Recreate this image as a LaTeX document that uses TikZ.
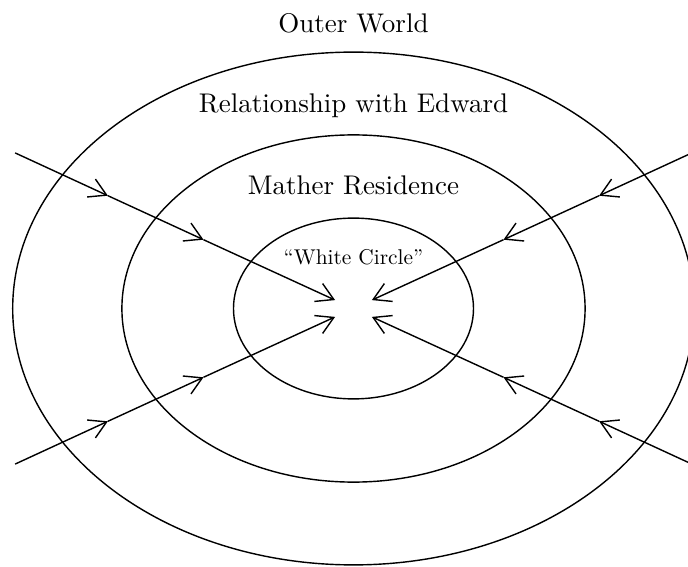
\documentclass[tikz,border=0pt]{standalone}
\usetikzlibrary{arrows.meta}

\tikzset{
  flecha/.style={line width=1pt,
    -{Straight Barb[length=12pt,width=14pt]}},
  etiqueta/.style={anchor=base, scale=1.92},
  etiquetachica/.style={anchor=base, scale=1.52},
}

\begin{document}
\begin{tikzpicture}[line width=1pt]
  % Marco
  \clip (-8.8375,-6.4625) rectangle (8.3625,7.7125);

  % Elipses
  \draw (0,0) ellipse (8.52 and 6.41);
  \draw (0,0) ellipse (5.79 and 4.34);
  \draw (0,0) ellipse (3 and 2.26);

  % Etiquetas
  \node[etiqueta] (outer) at (0,6.89) {Outer World};
  \node[etiqueta] (edward) at (0,4.89) {Relationship with Edward};
  \node[etiqueta] (mather) at (0,2.86) {Mather Residence};
  \node[etiquetachica] (white) at (0,1.09) {``White Circle''};

  % Puntos de las flechas
  \coordinate (a0) at (-8.46,3.89);
  \coordinate (a1) at (-6.14,2.82);
  \coordinate (a2) at (-3.75,1.72);
  \coordinate (a3) at (-0.46,0.21);

  \coordinate (b0) at (8.46,3.89);
  \coordinate (b1) at (6.14,2.82);
  \coordinate (b2) at (3.75,1.72);
  \coordinate (b3) at (0.46,0.21);

  \coordinate (c0) at (-8.46,-3.89);
  \coordinate (c1) at (-6.14,-2.82);
  \coordinate (c2) at (-3.75,-1.72);
  \coordinate (c3) at (-0.46,-0.21);

  \coordinate (d0) at (8.46,-3.89);
  \coordinate (d1) at (6.14,-2.82);
  \coordinate (d2) at (3.75,-1.72);
  \coordinate (d3) at (0.46,-0.21);

  % Flechas
  \draw[flecha] (a0) -- (a1);
  \draw[flecha] (a1) -- (a2);
  \draw[flecha] (a2) -- (a3);

  \draw[flecha] (b0) -- (b1);
  \draw[flecha] (b1) -- (b2);
  \draw[flecha] (b2) -- (b3);

  \draw[flecha] (c0) -- (c1);
  \draw[flecha] (c1) -- (c2);
  \draw[flecha] (c2) -- (c3);

  \draw[flecha] (d0) -- (d1);
  \draw[flecha] (d1) -- (d2);
  \draw[flecha] (d2) -- (d3);
\end{tikzpicture}
\end{document}
